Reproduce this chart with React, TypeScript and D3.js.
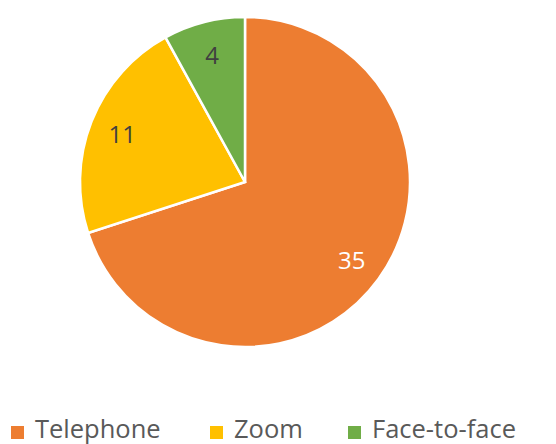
import React from "react";
import * as d3 from "d3";

const categories = ["Telephone", "Zoom", "Face-to-face"];
const values = [35, 11, 4];
const colors = ["#ED7D31", "#FFC000", "#70AD47"];
const labelColors = ["#ffffff", "#404040", "#404040"];

export default function App() {
  const width = 556;
  const height = 444;
  const cx = 245;
  const cy = 182;
  const radius = 165;

  const pie = d3.pie<number>().sort(null).value((d) => d);
  const arcs = pie(values);
  const arc = d3.arc<d3.PieArcDatum<number>>().innerRadius(0).outerRadius(radius);
  const labelArc = d3
    .arc<d3.PieArcDatum<number>>()
    .innerRadius(radius * 0.8)
    .outerRadius(radius * 0.8);

  // legend swatch x positions
  const legendX = [11, 210, 348];

  return (
    <svg
      width={width}
      height={height}
      style={{ position: "absolute", left: 0, top: 0 }}
      fontFamily="'Open Sans', sans-serif"
    >
      <rect width={width} height={height} fill="#ffffff" />
      <g transform={`translate(${cx},${cy})`}>
        {arcs.map((a, i) => (
          <path key={i} d={arc(a) || ""} fill={colors[i]} stroke="#ffffff" strokeWidth={2.5} />
        ))}
        {arcs.map((a, i) => {
          const [x, y] = labelArc.centroid(a);
          return (
            <text
              key={i}
              x={x}
              y={y}
              textAnchor="middle"
              dominantBaseline="central"
              fontSize={24}
              fill={labelColors[i]}
            >
              {values[i]}
            </text>
          );
        })}
      </g>
      <g>
        {categories.map((c, i) => (
          <g key={c} transform={`translate(${legendX[i]},438)`}>
            <rect x={0} y={-12} width={13} height={13} fill={colors[i]} />
            <text x={24} y={0} fontSize={25.5} fill="#595959">
              {c}
            </text>
          </g>
        ))}
      </g>
    </svg>
  );
}
